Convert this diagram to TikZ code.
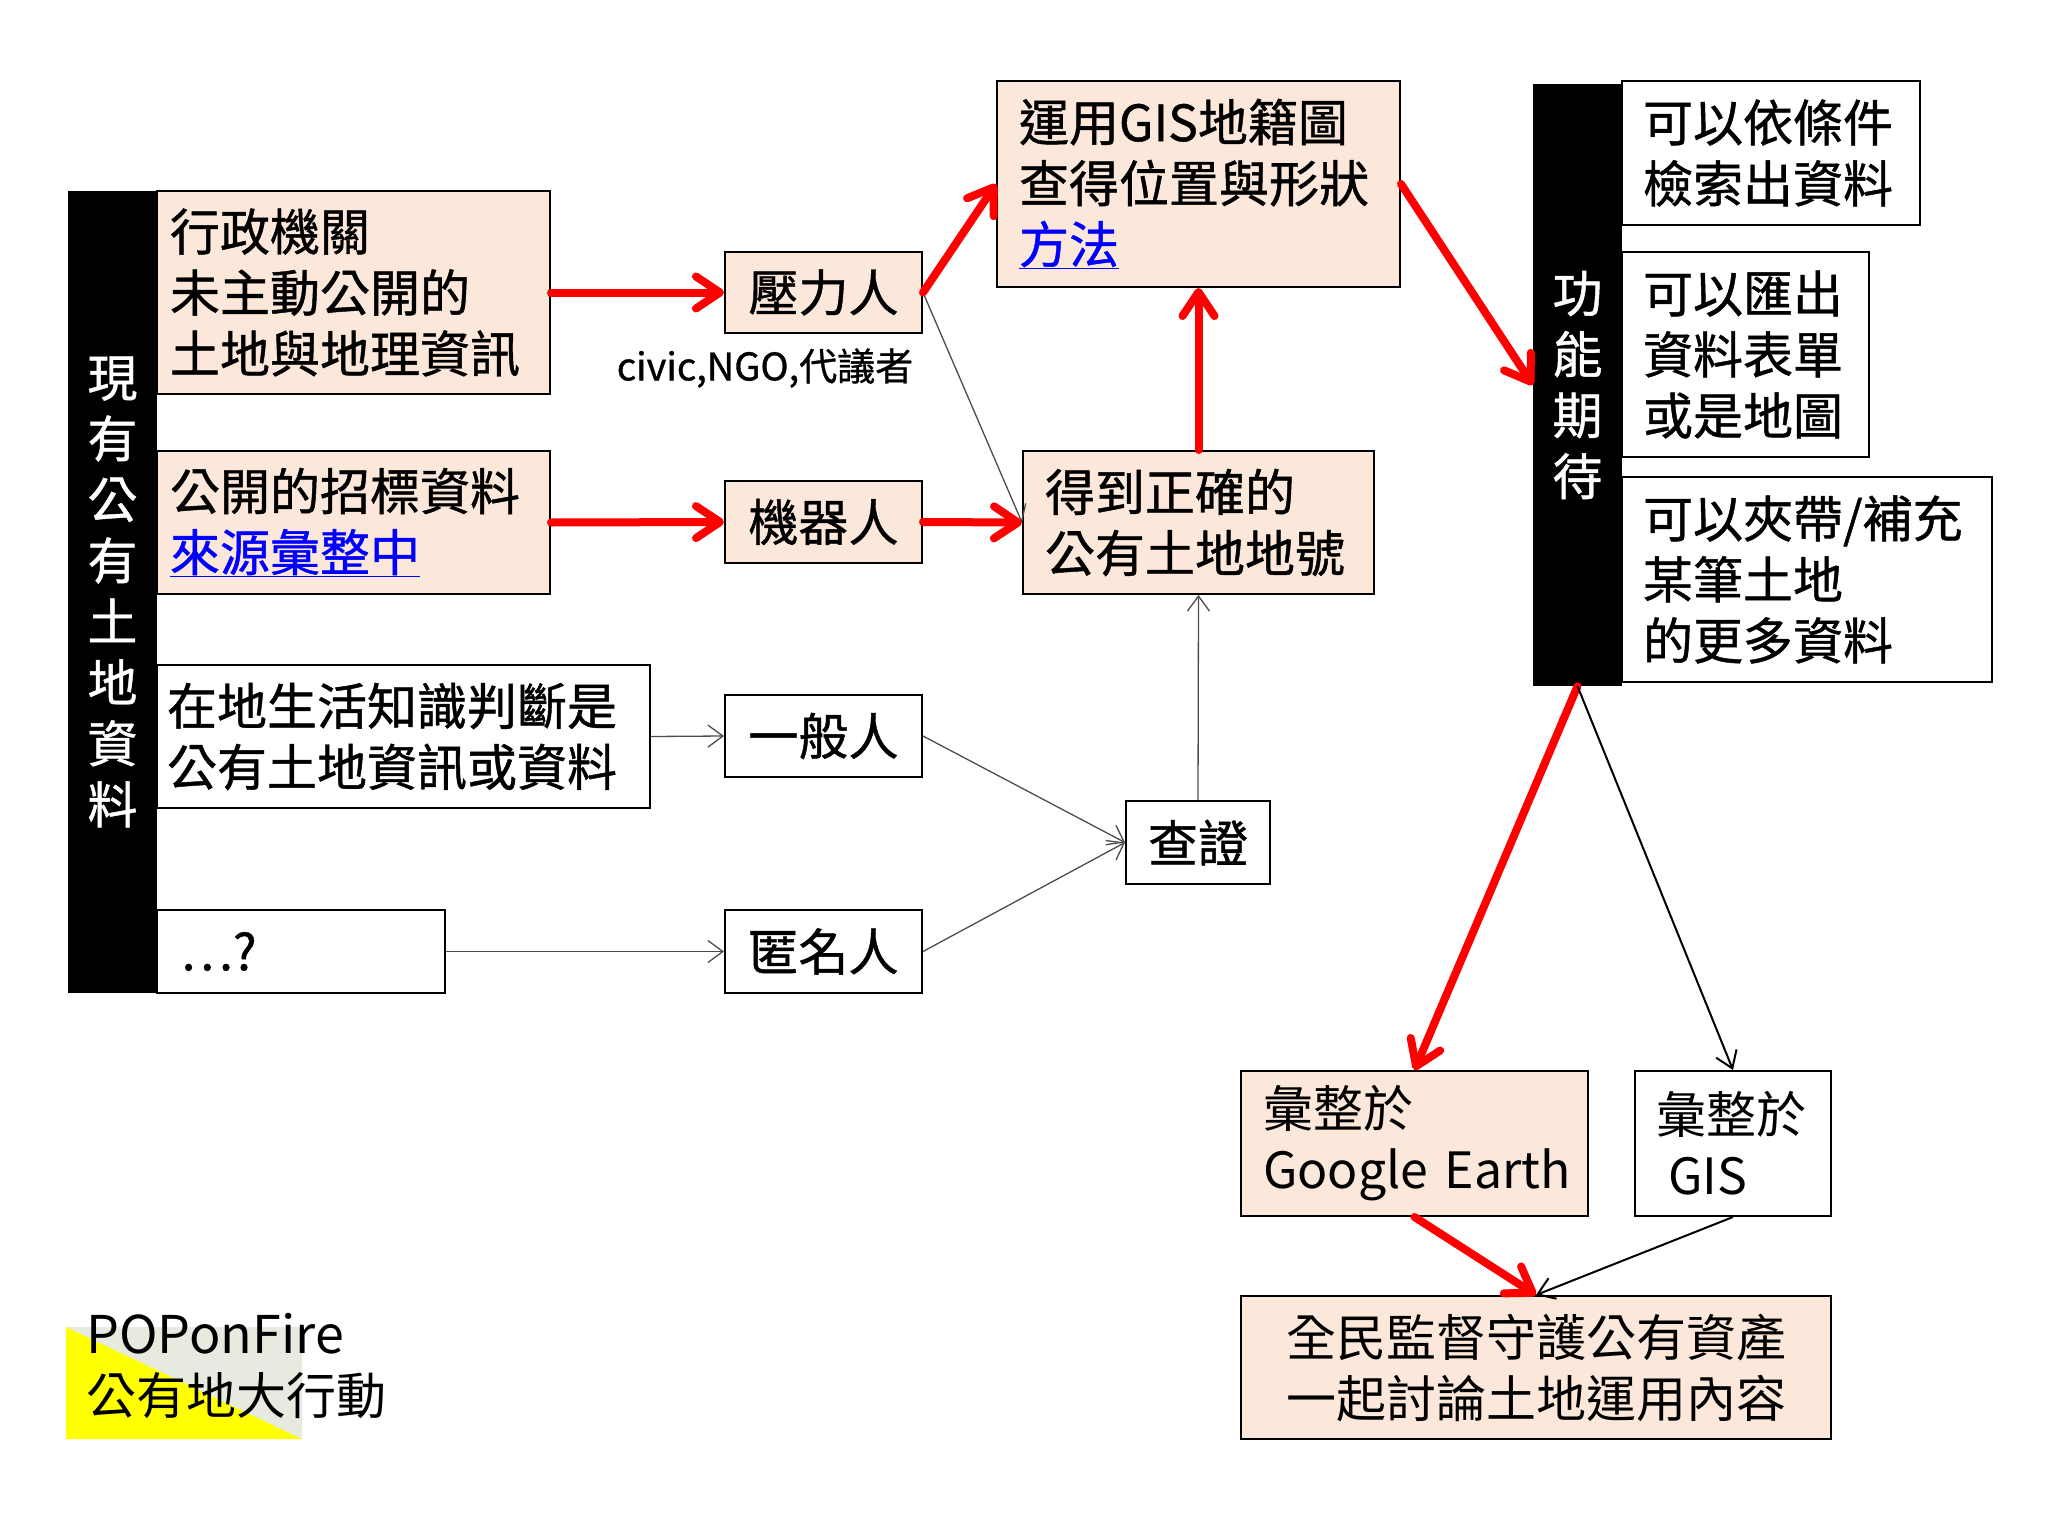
\documentclass[tikz,border=0pt]{standalone}
\usepackage{fontspec}
\setmainfont{Noto Sans CJK TC}
\newfontfamily\midfont{Noto Sans CJK TC}[FakeBold=0.9]
\usetikzlibrary{arrows.meta}
\definecolor{peach}{HTML}{FCE8DA}
\definecolor{logogray}{HTML}{E6EADF}
\definecolor{logoyellow}{HTML}{FFFF00}
\definecolor{linkblue}{HTML}{0000FF}
\definecolor{arrowred}{HTML}{FF0000}
\newcommand{\lnk}[1]{\textcolor{linkblue}{\underline{#1}}}
\begin{document}
\begin{tikzpicture}[x=1pt,y=-1pt,
  bx/.style={draw, line width=2pt, inner ysep=0pt, font=\fontsize{50}{61}\selectfont\midfont, align=left},
  bc/.style={draw, line width=2pt, inner sep=0pt, font=\fontsize{50}{61}\selectfont\midfont, align=center},
  plainfont/.style={font=\fontsize{50}{61}\selectfont},
  blackbar/.style={fill=black, draw=none, inner sep=0pt, text=white, font=\fontsize{50}{61}\selectfont\midfont, align=center},
  redarrow/.style={draw=arrowred, line width=8pt, line cap=round, -{Straight Barb[length=24pt,width=32pt,round]}},
  thinarrow/.style={draw=black!70, line width=1.3pt, -{Straight Barb[length=15pt,width=22pt]}},
  darkarrow/.style={draw=black, line width=2pt, -{Straight Barb[length=16pt,width=22pt]}}
]
\useasboundingbox (0,0) rectangle (2048,1536);

% left bar
\node[blackbar, minimum width=89pt, minimum height=802pt] (barL) at (112.5,592) {現\\有\\公\\有\\土\\地\\資\\料};

% source boxes
\node[bx, fill=peach, text width=367pt, inner xsep=13pt, minimum height=203pt] (b1) at (353.5,292.5) {行政機關\\未主動公開的\\土地與地理資訊};
\node[bx, fill=peach, text width=367pt, inner xsep=13pt, minimum height=143pt] (b2) at (353.5,522.5) {公開的招標資料\\\lnk{來源彙整中}};
\node[bx, fill=white, text width=473pt, inner xsep=10pt, minimum height=143pt] (b3) at (403.5,736.5) {在地生活知識判斷是\\公有土地資訊或資料};
\node[bx, fill=white, text width=242pt, inner xsep=23pt, minimum height=83pt] (b4) at (301,951.5) {…?};

% actors
\node[bc, fill=peach, minimum width=197pt, minimum height=81pt] (yali) at (823.5,292.5) {壓力人};
\node[font=\fontsize{38}{46}\selectfont\midfont, inner sep=0pt] (civic) at (765,368) {civic,NGO,代議者};
\node[bc, fill=peach, minimum width=197pt, minimum height=82pt] (jiqi) at (823.5,522) {機器人};
\node[bc, fill=white, minimum width=197pt, minimum height=82pt] (yiban) at (823.5,736) {一般人};
\node[bc, fill=white, minimum width=197pt, minimum height=83pt] (niming) at (823.5,951.5) {匿名人};
\node[bc, fill=white, minimum width=144pt, minimum height=83pt] (chazheng) at (1198,842.5) {查證};

% middle
\node[bx, fill=peach, text width=307pt, inner xsep=22pt, minimum height=143pt] (dedao) at (1198.5,522.5) {得到正確的\\公有土地地號};
\node[bx, fill=peach, text width=359pt, inner xsep=22pt, minimum height=206pt] (gis) at (1198.5,184) {運用GIS地籍圖\\查得位置與形狀\\\lnk{方法}};

% right bar and boxes
\node[blackbar, minimum width=89pt, minimum height=602pt] (barR) at (1577.5,385) {功\\能\\期\\待};
\node[bx, fill=white, text width=256pt, inner xsep=21pt, minimum height=144pt] (r1) at (1771,153) {可以依條件\\檢索出資料};
\node[bx, fill=white, text width=205pt, inner xsep=21pt, minimum height=205pt] (r2) at (1745.5,354.5) {可以匯出\\資料表單\\或是地圖};
\node[bx, fill=white, text width=328pt, inner xsep=21pt, minimum height=205pt] (r3) at (1807,579.5) {可以夾帶/補充\\某筆土地\\的更多資料};

% bottom right
\node[bx, plainfont, fill=peach, text width=303pt, inner xsep=22pt, minimum height=145pt] (ge) at (1414.5,1143.5) {彙整於\\\mbox{Google Earth}};
\node[bx, plainfont, fill=white, text width=154pt, inner xsep=21pt, minimum height=145pt] (gisb) at (1733,1143.5) {彙整於\\\hspace*{12pt}GIS};
\node[bc, plainfont, fill=peach, minimum width=590pt, minimum height=143pt] (quanmin) at (1536,1367.5) {全民監督守護公有資產\\一起討論土地運用內容};

% logo
\fill[logogray] (66,1327) -- (302,1327) -- (302,1439) -- cycle;
\fill[logoyellow] (66,1327) -- (66,1439) -- (302,1439) -- cycle;
\node[anchor=west, inner sep=0pt, font=\fontsize{52}{60}\selectfont] (popon) at (86,1334) {POPonFire};
\node[anchor=west, inner sep=0pt, font=\fontsize{50}{60}\selectfont] (gongyou) at (86,1396) {公有地大行動};

% connectors
\draw[thinarrow] (yali.east) -- (dedao.west);
\draw[redarrow] (b1.east) -- (yali.west);
\draw[redarrow] (b2.east) -- (jiqi.west);
\draw[redarrow] (yali.east) -- (gis.west);
\draw[redarrow] (jiqi.east) -- (dedao.west);
\draw[redarrow] (dedao.north) -- (gis.south);
\draw[redarrow] (gis.east) -- (barR.west);
\draw[thinarrow] (b3.east) -- (yiban.west);
\draw[thinarrow] (b4.east) -- (niming.west);
\draw[thinarrow] (yiban.east) -- (chazheng.west);
\draw[thinarrow] (niming.east) -- (chazheng.west);
\draw[thinarrow] (chazheng.north) -- (dedao.south);
\draw[redarrow] (barR.south) -- (ge.north);
\draw[darkarrow] (barR.south) -- (gisb.north);
\draw[redarrow] (ge.south) -- (quanmin.north);
\draw[darkarrow] (gisb.south) -- (quanmin.north);
\end{tikzpicture}
\end{document}
